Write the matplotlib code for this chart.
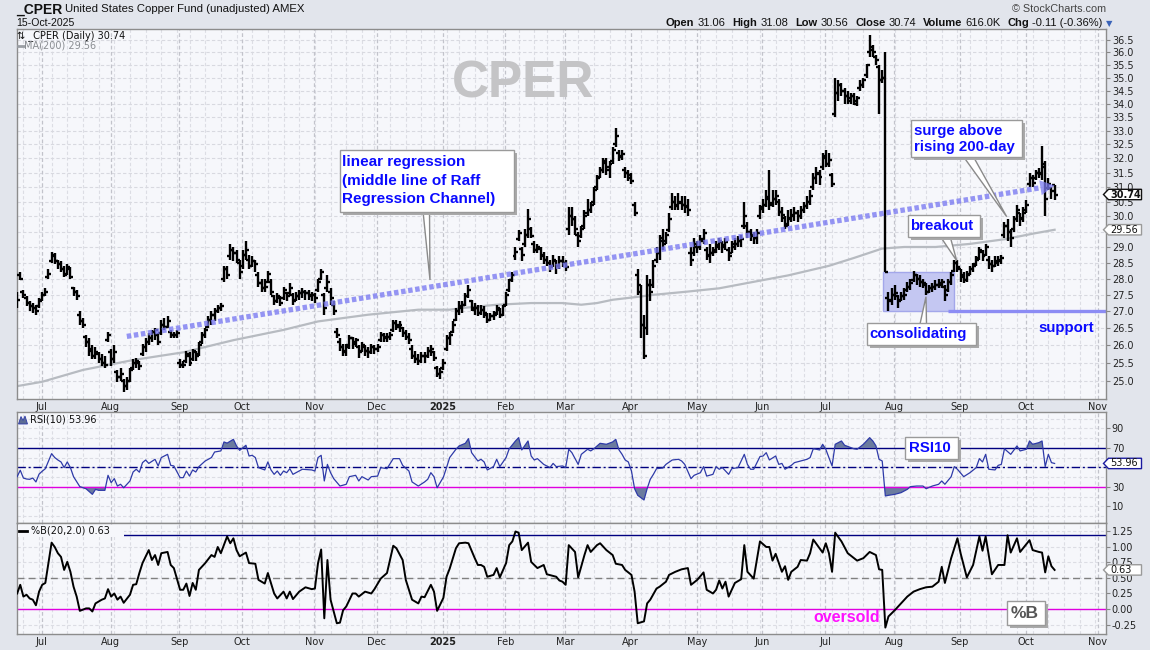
import numpy as np
import pandas as pd
import matplotlib
matplotlib.use("Agg")
import matplotlib.pyplot as plt
from matplotlib.collections import LineCollection
from matplotlib.patches import Polygon, Rectangle
from matplotlib.ticker import FixedLocator, NullLocator, FormatStrFormatter, FuncFormatter
from matplotlib.transforms import IdentityTransform

plt.rcParams['font.family'] = ['DejaVu Sans']

# ---------------- DATA ----------------
holidays = ['2024-07-04', '2024-09-02', '2024-11-28', '2024-12-25', '2025-01-01', '2025-01-09',
            '2025-01-20', '2025-02-17', '2025-04-18', '2025-05-26', '2025-06-19', '2025-07-04',
            '2025-09-01', '2025-11-27']
first_day = '2024-06-20'
last_axis_day = '2025-11-28'

month_labels = ['Jul', 'Aug', 'Sep', 'Oct', 'Nov', 'Dec', '2025', 'Feb', 'Mar', 'Apr', 'May',
                'Jun', 'Jul', 'Aug', 'Sep', 'Oct', 'Nov']

opens = [27.5, 28.1, 27.6, 27.4, 27.25, 27.15, 27.1, 27.15, 27.35, 27.5,
         28.05, 28.55, 28.7, 28.55, 28.45, 28.3, 28.15, 28.3, 27.7, 27.6,
         26.9, 26.7, 26.25, 26.1, 25.9, 25.7, 25.75, 25.6, 25.5, 26.15,
         25.8, 25.6, 25.25, 25.1, 25.0, 24.85, 25.0, 25.35, 25.5, 25.5,
         25.75, 25.95, 26.1, 26.2, 26.4, 26.3, 26.35, 26.6, 26.55, 26.4,
         26.3, 26.3, 25.5, 25.45, 25.55, 25.7, 25.6, 25.8, 25.75, 26.1,
         26.3, 26.55, 26.75, 26.9, 27.0, 27.1, 28.0, 28.3, 28.7, 28.9,
         28.8, 28.5, 28.4, 28.75, 28.6, 28.4, 28.55, 28.1, 27.85, 27.7,
         27.9, 27.9, 27.45, 27.3, 27.4, 27.4, 27.55, 27.55, 27.5, 27.35,
         27.45, 27.55, 27.6, 27.55, 27.45, 27.5, 27.65, 28.0, 27.5, 27.7,
         27.6, 27.2, 26.4, 26.1, 25.95, 25.8, 26.0, 26.2, 26.05, 25.95,
         25.85, 25.95, 25.85, 25.8, 25.95, 25.9, 26.15, 26.3, 26.2, 26.25,
         26.45, 26.65, 26.55, 26.5, 26.35, 26.25, 25.9, 25.7, 25.6, 25.55,
         25.7, 25.7, 25.85, 25.8, 25.35, 25.2, 25.35, 25.9, 26.2, 26.4,
         26.75, 27.0, 27.1, 27.2, 27.45, 27.3, 27.05, 27.1, 26.95, 27.05,
         26.9, 26.75, 26.85, 26.95, 27.05, 26.9, 27.2, 27.65, 27.95, 28.7,
         29.25, 28.95, 29.1, 29.4, 29.6, 29.1, 28.9, 28.95, 28.7, 28.6,
         28.5, 28.4, 28.55, 28.4, 28.55, 28.5, 29.6, 30.0, 29.9, 29.4,
         29.35, 29.7, 30.1, 30.2, 30.5, 31.0, 31.35, 31.6, 31.85, 31.6,
         31.9, 32.5, 32.2, 32.05, 31.6, 31.5, 31.3, 30.4, 28.1, 27.6,
         26.6, 26.5, 27.8, 27.8, 28.6, 28.8, 29.3, 29.2, 29.55, 30.3,
         30.5, 30.35, 30.5, 30.4, 30.3, 28.8, 28.8, 29.1, 29.0, 29.25,
         28.9, 28.7, 28.8, 28.9, 29.0, 29.15, 29.0, 28.9, 28.8, 29.0,
         29.1, 29.2, 29.7, 29.7, 29.5, 29.4, 29.3, 30.0, 30.3, 30.4,
         30.6, 30.45, 30.6, 30.5, 30.15, 29.95, 29.75, 29.9, 30.0, 30.1,
         30.0, 30.2, 30.35, 30.5, 31.0, 31.3, 31.5, 31.7, 32.1, 31.8,
         31.4, 33.6, 34.4, 34.7, 34.5, 34.3, 34.1, 34.3, 34.0, 34.6,
         34.7, 35.1, 36.0, 36.2, 35.8, 35.4, 34.9, 35.0, 27.4, 27.3,
         27.5, 27.45, 27.35, 27.45, 27.65, 27.75, 27.95, 28.1, 28.0, 27.9,
         27.8, 27.6, 27.7, 27.75, 27.8, 27.8, 27.75, 27.65, 27.9, 28.25,
         28.5, 28.3, 28.1, 27.95, 28.15, 28.3, 28.45, 28.65, 28.85, 28.75,
         28.6, 28.45, 28.4, 28.5, 28.55, 29.4, 29.7, 29.5, 29.6, 29.9,
         30.1, 29.9, 30.2, 31.1, 31.3, 31.3, 31.5, 31.5, 31.7, 30.95,
         30.95, 31.06]

highs = [27.6, 28.2, 27.65, 27.45, 27.3, 27.25, 27.2, 27.4, 27.6, 27.7,
         28.3, 28.85, 28.8, 28.6, 28.55, 28.4, 28.45, 28.35, 27.75, 27.65,
         27.0, 26.8, 26.3, 26.2, 26.0, 25.95, 25.8, 25.75, 25.7, 26.4,
         25.9, 26.0, 25.3, 25.35, 25.05, 25.1, 25.35, 25.6, 25.65, 25.55,
         26.05, 26.2, 26.35, 26.45, 26.5, 26.35, 26.75, 26.8, 26.85, 26.45,
         26.4, 26.45, 25.6, 25.55, 25.85, 25.8, 25.9, 25.85, 26.1, 26.4,
         26.5, 26.85, 27.0, 27.1, 27.2, 27.25, 28.4, 28.4, 29.1, 29.0,
         28.9, 28.6, 28.9, 29.2, 28.75, 28.7, 28.6, 28.2, 28.0, 28.0,
         28.25, 28.0, 27.5, 27.55, 27.45, 27.75, 27.6, 27.85, 27.55, 27.6,
         27.65, 27.7, 27.65, 27.65, 27.6, 27.55, 28.0, 28.3, 27.55, 28.1,
         27.7, 27.3, 26.5, 26.2, 26.05, 26.05, 26.3, 26.25, 26.2, 26.0,
         26.1, 26.0, 25.95, 26.05, 26.0, 26.05, 26.4, 26.35, 26.35, 26.4,
         26.75, 26.75, 26.7, 26.55, 26.45, 26.35, 26.0, 25.85, 25.75, 25.8,
         25.8, 25.95, 26.0, 25.85, 25.4, 25.35, 25.6, 26.3, 26.4, 26.7,
         27.1, 27.3, 27.3, 27.55, 27.8, 27.35, 27.25, 27.2, 27.2, 27.15,
         26.95, 26.95, 27.0, 27.2, 27.1, 27.2, 27.6, 28.0, 28.2, 29.0,
         29.55, 29.0, 29.6, 30.25, 29.65, 29.2, 29.1, 29.0, 28.85, 28.7,
         28.6, 28.75, 28.6, 28.7, 28.7, 28.6, 30.3, 30.3, 30.0, 29.5,
         29.7, 30.2, 30.6, 30.5, 31.0, 31.4, 31.7, 32.0, 32.0, 31.9,
         32.4, 33.1, 32.3, 32.3, 31.7, 31.6, 31.5, 30.5, 28.3, 27.8,
         26.9, 28.1, 28.0, 28.6, 29.0, 29.4, 29.6, 29.5, 30.1, 30.8,
         30.7, 30.8, 30.7, 30.7, 30.6, 29.0, 29.3, 29.2, 29.4, 29.6,
         29.0, 29.1, 29.0, 29.2, 29.3, 29.2, 29.3, 29.0, 29.2, 29.3,
         29.35, 29.4, 30.5, 29.8, 29.6, 29.5, 29.6, 30.4, 30.6, 30.9,
         31.6, 30.9, 30.9, 30.6, 30.3, 30.0, 30.2, 30.25, 30.3, 30.2,
         30.35, 30.5, 30.7, 30.9, 31.5, 31.7, 31.6, 32.2, 32.3, 32.2,
         31.5, 35.0, 34.9, 34.8, 34.6, 34.5, 34.4, 34.4, 34.3, 34.9,
         35.0, 35.55, 36.7, 36.3, 35.9, 35.5, 35.3, 36.0, 27.6, 27.7,
         27.8, 27.5, 27.6, 27.7, 27.9, 28.0, 28.25, 28.15, 28.1, 28.0,
         27.85, 27.8, 27.85, 27.95, 28.0, 28.0, 27.8, 28.0, 28.2, 28.6,
         28.6, 28.3, 28.2, 28.25, 28.4, 28.5, 28.7, 29.0, 28.9, 29.1,
         28.7, 28.6, 28.7, 28.7, 28.75, 29.8, 29.9, 29.6, 30.0, 30.4,
         30.1, 30.3, 30.55, 31.5, 31.4, 31.6, 31.65, 32.45, 31.9, 31.3,
         31.0, 31.08]

lows = [27.1, 27.95, 27.4, 27.15, 27.0, 26.95, 26.9, 27.1, 27.3, 27.45,
        28.0, 28.5, 28.45, 28.3, 28.2, 28.05, 28.1, 28.0, 27.45, 27.35,
        26.6, 26.5, 25.95, 25.7, 25.6, 25.6, 25.5, 25.4, 25.35, 26.1,
        25.4, 25.5, 24.95, 25.0, 24.7, 24.75, 24.95, 25.3, 25.35, 25.3,
        25.7, 25.8, 26.0, 26.1, 26.15, 26.0, 26.3, 26.45, 26.5, 26.2,
        26.2, 26.2, 25.35, 25.35, 25.5, 25.4, 25.55, 25.55, 25.7, 26.05,
        26.2, 26.5, 26.6, 26.7, 26.95, 27.0, 27.9, 28.0, 28.6, 28.55,
        28.5, 28.0, 28.3, 28.6, 28.3, 28.35, 28.2, 27.75, 27.6, 27.6,
        27.85, 27.5, 27.2, 27.25, 27.15, 27.35, 27.3, 27.5, 27.2, 27.3,
        27.35, 27.4, 27.35, 27.35, 27.3, 27.25, 27.6, 27.95, 26.9, 27.6,
        27.2, 26.9, 26.2, 25.85, 25.7, 25.7, 25.9, 25.9, 25.95, 25.65,
        25.8, 25.7, 25.65, 25.75, 25.75, 25.8, 26.1, 26.1, 26.1, 26.15,
        26.4, 26.45, 26.4, 26.25, 26.15, 26.05, 25.6, 25.5, 25.45, 25.5,
        25.5, 25.65, 25.7, 25.55, 25.1, 25.05, 25.3, 25.85, 26.0, 26.35,
        26.7, 26.9, 26.95, 27.15, 27.4, 27.0, 26.9, 26.85, 26.9, 26.8,
        26.65, 26.7, 26.75, 26.9, 26.8, 26.85, 27.15, 27.6, 27.9, 28.6,
        29.2, 28.55, 29.0, 29.3, 29.3, 28.8, 28.8, 28.6, 28.45, 28.4,
        28.2, 28.35, 28.15, 28.3, 28.35, 28.25, 29.4, 29.7, 29.4, 29.0,
        29.3, 29.6, 30.0, 30.1, 30.4, 30.9, 31.3, 31.5, 31.4, 31.3,
        31.8, 32.4, 31.9, 31.95, 31.3, 31.2, 31.1, 30.0, 27.5, 26.2,
        25.6, 26.3, 27.3, 27.7, 28.5, 28.6, 28.9, 29.1, 29.5, 30.2,
        30.2, 30.2, 30.2, 30.1, 30.0, 28.4, 28.7, 28.8, 28.9, 29.1,
        28.6, 28.5, 28.7, 28.8, 28.9, 28.8, 28.9, 28.55, 28.8, 28.9,
        29.0, 29.0, 29.6, 29.3, 29.2, 29.1, 29.1, 29.9, 30.1, 30.3,
        30.2, 30.3, 30.4, 30.0, 29.8, 29.6, 29.7, 29.8, 29.85, 29.8,
        29.9, 30.1, 30.25, 30.4, 30.9, 31.1, 31.05, 31.6, 31.7, 31.7,
        31.0, 33.5, 34.1, 34.3, 34.0, 34.0, 34.0, 33.95, 33.9, 34.5,
        34.6, 35.0, 35.8, 35.8, 35.5, 33.6, 34.8, 28.2, 27.0, 27.2,
        27.35, 27.1, 27.3, 27.35, 27.6, 27.65, 27.9, 27.8, 27.75, 27.7,
        27.5, 27.55, 27.6, 27.65, 27.7, 27.7, 27.3, 27.6, 27.8, 28.2,
        28.2, 27.9, 27.85, 27.9, 28.1, 28.2, 28.4, 28.6, 28.55, 28.7,
        28.3, 28.2, 28.35, 28.4, 28.45, 29.3, 29.2, 29.0, 29.5, 29.8,
        29.7, 29.8, 30.1, 31.0, 31.0, 31.25, 31.3, 31.25, 30.0, 30.9,
        30.6, 30.56]

closes = [27.35, 28.0, 27.5, 27.25, 27.15, 27.1, 27.0, 27.3, 27.5, 27.6,
          28.15, 28.75, 28.55, 28.45, 28.3, 28.1, 28.35, 28.05, 27.6, 27.45,
          26.7, 26.6, 26.1, 25.85, 25.7, 25.8, 25.6, 25.5, 25.45, 26.3,
          25.6, 25.8, 25.1, 25.2, 24.85, 25.0, 25.3, 25.5, 25.55, 25.4,
          25.95, 26.1, 26.2, 26.4, 26.45, 26.1, 26.6, 26.55, 26.7, 26.3,
          26.3, 26.35, 25.45, 25.45, 25.75, 25.5, 25.85, 25.7, 26.0, 26.3,
          26.45, 26.75, 26.9, 27.0, 27.1, 27.15, 28.3, 28.1, 28.9, 28.8,
          28.6, 28.2, 28.75, 28.9, 28.4, 28.55, 28.45, 27.85, 27.7, 27.75,
          28.15, 27.6, 27.3, 27.45, 27.25, 27.65, 27.45, 27.7, 27.3, 27.45,
          27.55, 27.6, 27.55, 27.5, 27.5, 27.4, 27.9, 28.2, 27.1, 27.9,
          27.4, 27.0, 26.3, 25.95, 25.85, 25.95, 26.2, 26.1, 26.15, 25.8,
          26.0, 25.85, 25.8, 25.95, 25.9, 25.95, 26.3, 26.25, 26.25, 26.3,
          26.65, 26.6, 26.6, 26.35, 26.25, 26.15, 25.7, 25.6, 25.55, 25.7,
          25.7, 25.85, 25.9, 25.65, 25.2, 25.25, 25.5, 26.2, 26.3, 26.6,
          27.0, 27.15, 27.2, 27.45, 27.65, 27.1, 27.1, 26.95, 27.05, 26.95,
          26.75, 26.85, 26.9, 27.1, 26.9, 27.15, 27.5, 27.95, 28.1, 28.85,
          29.45, 28.75, 29.4, 29.9, 29.35, 28.9, 29.0, 28.75, 28.6, 28.5,
          28.35, 28.6, 28.4, 28.55, 28.5, 28.35, 30.0, 29.9, 29.6, 29.2,
          29.6, 30.0, 30.2, 30.4, 30.9, 31.3, 31.6, 31.9, 31.7, 31.8,
          32.3, 32.8, 32.1, 32.15, 31.5, 31.4, 31.2, 30.1, 27.8, 26.6,
          25.7, 27.8, 27.6, 28.4, 28.8, 29.2, 29.1, 29.4, 29.9, 30.5,
          30.4, 30.45, 30.4, 30.35, 30.2, 28.6, 29.0, 29.0, 29.2, 29.45,
          28.75, 28.8, 28.85, 29.05, 29.2, 29.05, 29.15, 28.7, 29.1, 29.1,
          29.2, 29.25, 30.0, 29.5, 29.35, 29.3, 29.45, 30.25, 30.4, 30.65,
          30.4, 30.6, 30.7, 30.15, 30.05, 29.7, 29.95, 30.05, 30.1, 30.0,
          30.2, 30.35, 30.5, 30.7, 31.3, 31.45, 31.35, 32.0, 31.8, 31.95,
          31.1, 34.4, 34.7, 34.5, 34.3, 34.2, 34.3, 34.1, 34.2, 34.7,
          34.9, 35.5, 36.1, 36.0, 35.7, 34.9, 35.0, 28.2, 27.35, 27.5,
          27.55, 27.3, 27.45, 27.5, 27.75, 27.85, 28.1, 28.0, 27.9, 27.85,
          27.6, 27.7, 27.75, 27.8, 27.85, 27.9, 27.5, 27.9, 28.1, 28.5,
          28.35, 28.05, 27.95, 28.1, 28.3, 28.4, 28.6, 28.9, 28.7, 29.0,
          28.45, 28.4, 28.55, 28.6, 28.65, 29.7, 29.5, 29.3, 29.9, 30.2,
          29.95, 30.1, 30.4, 31.3, 31.15, 31.5, 31.45, 31.8, 30.6, 31.1,
          30.85, 30.74]

ma_days = [0, 8, 21, 37, 53, 69, 85, 96, 112, 128, 138, 142, 153, 164, 174, 180, 185, 190,
           199, 203, 214, 224, 235, 246, 259, 267, 276, 283, 293, 304, 315, 325, 331]
ma_vals = [24.85, 24.97, 25.3, 25.58, 25.8, 26.15, 26.45, 26.7, 26.9, 27.05, 27.05, 27.1, 27.2,
           27.25, 27.25, 27.2, 27.25, 27.35, 27.45, 27.5, 27.6, 27.7, 27.9, 28.1, 28.4, 28.65,
           28.95, 29.0, 29.0, 29.1, 29.25, 29.45, 29.56]

rsi_days = [0, 1, 2, 3, 4, 5, 6, 7, 8, 9, 11, 12, 13, 14, 15, 16, 17, 18, 20, 22, 24, 25, 26, 28,
            29, 30, 31, 32, 33, 34, 36, 37, 38, 39, 40, 41, 42, 44, 45, 46, 48, 49, 50, 52, 53, 54,
            55, 56, 57, 58, 60, 62, 63, 65, 66, 67, 69, 70, 71, 73, 74, 75, 76, 77, 79, 80, 81, 82,
            83, 84, 85, 86, 87, 88, 90, 91, 94, 95, 96, 97, 98, 99, 100, 101, 103, 105, 106, 108,
            109, 110, 112, 113, 115, 116, 118, 120, 122, 123, 125, 126, 128, 130, 131, 132, 133,
            134, 136, 137, 138, 140, 141, 143, 144, 145, 147, 148, 149, 150, 152, 153, 154, 156,
            157, 159, 160, 161, 163, 164, 165, 166, 168, 170, 171, 172, 174, 175, 176, 177, 179,
            180, 182, 183, 184, 186, 188, 190, 191, 192, 193, 194, 195, 196, 197, 198, 200, 201,
            202, 203, 204, 206, 207, 209, 211, 212, 213, 215, 216, 218, 219, 220, 222, 223, 224,
            225, 227, 228, 230, 232, 233, 234, 235, 237, 238, 239, 240, 242, 243, 244, 245, 247,
            248, 250, 252, 253, 254, 255, 256, 257, 258, 260, 261, 263, 264, 267, 268, 270, 272,
            273, 274, 275, 276, 277, 278, 280, 282, 284, 285, 287, 289, 290, 292, 294, 295, 296,
            298, 299, 300, 302, 304, 306, 307, 308, 309, 310, 312, 313, 314, 315, 317, 319, 320,
            322, 323, 324, 326, 327, 328, 329, 330, 331]
rsi_vals = [40.4, 47, 39, 38, 37.7, 39, 35, 43, 46, 48.6, 64, 60, 57.5, 55.5, 49.7, 55.5, 49.7,
            40.4, 30.2, 28, 22.3, 27.4, 26.4, 26.4, 41.8, 34.3, 38.4, 30.8, 32.6, 29, 36, 45.2, 48,
            45, 54.8, 57.5, 54, 58.2, 51.4, 60, 63.3, 52, 51.4, 39.4, 39.4, 46.2, 41, 47.3, 45.2,
            50.7, 56.5, 60, 65.7, 66.8, 76, 74.8, 78.7, 71.9, 67.4, 72.6, 61.6, 62.3, 60, 49.7,
            47.3, 55.5, 47.3, 42.8, 46.2, 41.8, 46.2, 44.5, 48.6, 42.8, 46.2, 48, 47.3, 46.2, 60,
            62.3, 36, 53, 44.5, 38.4, 30.8, 32.6, 40.4, 41.8, 36, 40.4, 37, 40.4, 41, 49.7, 48.6,
            58.9, 58.9, 52, 46.2, 35, 30.8, 35, 37.7, 44.5, 40.4, 29, 40, 49.7, 60, 68.5, 71.9,
            74.6, 79.4, 65, 56.5, 58.2, 55.5, 47.3, 50.7, 58.2, 50.7, 60, 69, 77, 80.4, 67.8, 77,
            61.6, 57.5, 58.9, 53, 49.7, 54, 50.7, 51.4, 49.7, 68.5, 65, 53, 63.3, 68.5, 66.8, 69,
            74.6, 73.6, 76, 78.7, 68, 63.3, 57.5, 55.5, 46.2, 28.1, 21.3, 16.5, 28.1, 37.7, 42.8,
            48.6, 49.3, 53, 57.5, 58.2, 56.5, 53, 38.4, 41.8, 44.5, 50.7, 41, 42.8, 50.7, 48, 49.7,
            42.8, 48.6, 49.7, 63.3, 53, 48, 48, 61, 61.6, 65, 57.5, 61.6, 53, 54, 48, 52, 54.8,
            56.5, 58.2, 60, 69, 68.5, 67.8, 73.6, 68.5, 51.4, 73.6, 77, 72.6, 69, 68.5, 73.6, 80.4,
            77, 72, 58.2, 56.5, 20.6, 21.3, 22.3, 24, 27.4, 30.2, 30.8, 30.8, 28.1, 30.8, 32.6, 36,
            32.6, 40.4, 50.7, 48, 40.4, 44.5, 49.7, 58.9, 55.5, 63.3, 48, 47.3, 52, 53, 69, 63.3,
            71.9, 66.8, 68.5, 77, 73.6, 75.3, 77, 50.7, 63.3, 54.8, 53.96]

pb_days = [0, 1, 2, 3, 4, 5, 6, 7, 8, 9, 11, 12, 13, 14, 15, 16, 17, 18, 19, 20, 22, 23, 24, 25,
           27, 28, 29, 30, 31, 32, 33, 34, 36, 37, 38, 39, 40, 42, 43, 44, 45, 46, 48, 49, 50, 52,
           53, 54, 55, 56, 57, 58, 60, 62, 63, 64, 65, 67, 68, 69, 70, 71, 73, 74, 76, 77, 79, 80,
           82, 83, 85, 86, 87, 88, 90, 92, 94, 95, 96, 97, 98, 99, 100, 102, 103, 104, 105, 107,
           108, 109, 111, 113, 114, 116, 118, 120, 121, 123, 124, 126, 128, 129, 130, 132, 133,
           134, 136, 137, 138, 140, 141, 143, 144, 146, 147, 148, 149, 150, 152, 153, 154, 156,
           157, 158, 159, 160, 161, 163, 164, 166, 168, 169, 172, 173, 174, 175, 176, 178, 179,
           181, 182, 183, 185, 186, 188, 190, 191, 193, 194, 196, 197, 198, 200, 201, 202, 204,
           205, 207, 208, 210, 212, 214, 215, 217, 219, 220, 222, 223, 224, 225, 226, 227, 229,
           231, 232, 233, 235, 237, 239, 240, 241, 242, 244, 245, 246, 247, 249, 250, 252, 253,
           254, 256, 257, 258, 259, 260, 261, 263, 265, 267, 268, 270, 272, 274, 275, 276, 277,
           278, 280, 282, 284, 286, 288, 290, 292, 293, 294, 295, 296, 298, 300, 301, 303, 305,
           307, 308, 309, 311, 313, 315, 316, 317, 319, 320, 323, 324, 326, 327, 328, 329, 330,
           331]
pb_vals = [0.25, 0.39, 0.2, 0.23, 0.17, 0.15, 0.06, 0.28, 0.39, 0.42, 1.07, 1.0, 0.9, 0.84, 0.63,
           0.76, 0.6, 0.36, 0.2, -0.03, 0.01, 0.01, -0.04, 0.09, 0.15, 0.17, 0.32, 0.2, 0.25, 0.15,
           0.2, 0.1, 0.23, 0.39, 0.4, 0.58, 0.74, 0.95, 0.79, 0.87, 0.71, 0.9, 0.92, 0.71, 0.66,
           0.31, 0.31, 0.41, 0.21, 0.42, 0.31, 0.63, 0.74, 0.87, 0.84, 1.0, 0.9, 1.17, 1.06, 1.14,
           0.95, 0.85, 0.91, 0.74, 0.73, 0.47, 0.41, 0.58, 0.25, 0.17, 0.28, 0.17, 0.28, 0.16,
           0.28, 0.35, 0.32, 0.33, 0.74, 0.96, -0.15, 0.79, 0.15, -0.23, -0.22, -0.02, 0.04, 0.25,
           0.25, 0.2, 0.28, 0.25, 0.32, 0.49, 0.58, 1.02, 0.98, 0.79, 0.47, 0.15, 0.09, 0.2, 0.19,
           0.39, 0.28, -0.03, 0.18, 0.52, 0.65, 0.98, 1.06, 1.07, 1.06, 0.82, 0.71, 0.71, 0.68,
           0.52, 0.55, 0.66, 0.51, 0.74, 1.03, 1.09, 1.25, 1.23, 0.95, 1.07, 0.76, 0.66, 0.71,
           0.56, 0.52, 0.46, 0.44, 0.39, 1.03, 0.92, 0.51, 0.87, 1.03, 0.92, 1.03, 1.06, 0.95,
           0.87, 0.73, 0.71, 0.63, 0.55, 0.28, -0.23, -0.2, 0.09, 0.15, 0.33, 0.36, 0.44, 0.55,
           0.6, 0.64, 0.66, 0.39, 0.47, 0.59, 0.31, 0.25, 0.31, 0.46, 0.33, 0.44, 0.2, 0.42, 0.48,
           1.03, 0.6, 0.49, 1.09, 1.0, 1.0, 0.78, 0.89, 0.6, 0.69, 0.47, 0.6, 0.68, 0.79, 0.78,
           0.9, 1.12, 0.98, 0.91, 1.06, 0.9, 0.6, 1.23, 1.09, 0.9, 0.82, 0.78, 0.82, 0.92, 0.87,
           0.64, 0.63, -0.3, -0.12, -0.02, 0.09, 0.2, 0.28, 0.32, 0.35, 0.36, 0.4, 0.44, 0.68,
           0.42, 0.82, 1.14, 0.9, 0.51, 0.71, 1.17, 0.94, 1.17, 0.56, 0.71, 0.71, 1.19, 0.91,
           1.14, 0.92, 1.11, 0.95, 0.92, 0.91, 0.59, 0.85, 0.69, 0.63]

reg_start_day, reg_start_val = 35, 26.26
reg_end_day, reg_end_val = 331, 31.05
support_level = 27.0
support_start_day = 297
consol_days = (276.2, 298.9)
consol_range = (27.0, 28.2)

last_close, ma_last, rsi_last, pb_last = 30.74, 29.56, 53.96, 0.63

price_ticks = [25.0 + 0.5 * k for k in range(24)]
rsi_ticks = [10, 30, 70, 90]
pb_ticks = [-0.25, 0.0, 0.25, 0.5, 0.75, 1.0, 1.25]

# ---------------- CALENDAR ----------------
dates = pd.bdate_range(first_day, last_axis_day, freq='C', holidays=holidays)
month_first = [i for i in range(1, len(dates)) if dates[i].month != dates[i - 1].month]
week_first = [i for i in range(1, len(dates)) if dates[i].weekday() < dates[i - 1].weekday()]
month_pos = [m + 0.8 for m in month_first][:len(month_labels)]

n = len(closes)
days = np.arange(n)

# ---------------- FIGURE ----------------
W, H = 1150, 650
BG = '#e2e5ec'
PANEL = '#f6f7fb'
fig = plt.figure(figsize=(W / 100, H / 100), dpi=100, facecolor=BG)


def fx(x):
    return x / W


def fy(y):
    return 1 - y / H


def add_axes(top, bottom):
    return fig.add_axes([fx(16.5), fy(bottom), (1106 - 16.5) / W, (bottom - top) / H])


ax = add_axes(29, 399)
ax_r = add_axes(412.3, 523.3)
ax_b = add_axes(523.3, 634.3)
XLIM = (-0.2, 347.4)

for a in (ax, ax_r, ax_b):
    a.set_facecolor(PANEL)
    a.set_xlim(*XLIM)
    for s in a.spines.values():
        s.set_color('#8c8c8c')
        s.set_linewidth(1.0)
    for w in week_first:
        a.axvline(w, color='#dcdde4', lw=0.8, ls=(0, (3, 2)), zorder=0.3)
    for m in month_pos:
        a.axvline(m, color='#c2c3cb', lw=0.9, ls=(0, (3, 2)), zorder=0.4)
    a.yaxis.tick_right()
    a.tick_params(axis='y', direction='out', length=3, width=0.8, color='#888888',
                  labelsize=7, pad=1.2, labelcolor='#222222')
    a.tick_params(axis='x', length=0, labelsize=7, pad=2, labelcolor='#222222')

# ---- main price panel ----
ax.set_yscale('log')
ax.set_ylim(24.497, 36.94)
ax.yaxis.set_major_locator(FixedLocator(price_ticks))
ax.yaxis.set_minor_locator(NullLocator())
# the 29.5 label sits under the MA(200) value tag in the reference
ax.yaxis.set_major_formatter(FuncFormatter(lambda v, p: '' if abs(v - 29.5) < 1e-6 else '%.1f' % v))
for t in price_ticks:
    ax.axhline(t, color='#d8d9e0', lw=0.8, ls=(0, (3, 2)), zorder=0.3)

ax.set_xticks(month_pos)
ax.set_xticklabels(month_labels)
for lab in ax.get_xticklabels():
    if lab.get_text() == '2025':
        lab.set_fontweight('bold')

# consolidation box
ax.add_patch(Rectangle((consol_days[0], consol_range[0]), consol_days[1] - consol_days[0],
                       consol_range[1] - consol_range[0], facecolor='#c4c7f2', edgecolor='#a3a7ea',
                       lw=1, zorder=1))
# support line
ax.plot([support_start_day, XLIM[1]], [support_level, support_level], color='#8c8cf4', lw=2.4,
        solid_capstyle='butt', zorder=1.2)

# MA 200
ax.plot(ma_days, ma_vals, color='#b7bbc1', lw=1.6, zorder=1.5)

# OHLC bars
segs = []
for i in range(n):
    segs.append([(i, lows[i]), (i, highs[i])])
    segs.append([(i - 0.95, opens[i]), (i, opens[i])])
    segs.append([(i, closes[i]), (i + 0.95, closes[i])])
ax.add_collection(LineCollection(segs, colors='black', linewidths=1.7, capstyle='butt', zorder=3))

# regression line (straight on log axis) with arrow head
lr0, lr1 = np.log(reg_start_val), np.log(reg_end_val)


def reg_at(d):
    t = (d - reg_start_day) / (reg_end_day - reg_start_day)
    return float(np.exp(lr0 + t * (lr1 - lr0)))


arrow_base = reg_end_day - 4.5
ax.plot([reg_start_day, arrow_base], [reg_start_val, reg_at(arrow_base)], color='#7c7cf2',
        alpha=0.8, lw=3.8, ls=(0, (0.85, 0.5)), solid_capstyle='butt', zorder=4)
p_base = ax.transData.transform((arrow_base, reg_at(arrow_base)))
p_tip = ax.transData.transform((reg_end_day, reg_end_val))
dvec = (p_tip - p_base) / np.linalg.norm(p_tip - p_base)
nvec = np.array([-dvec[1], dvec[0]])
head = [p_tip, p_base + nvec * 7.5, p_base - nvec * 7.5]
ax.add_patch(Polygon(head, closed=True, transform=IdentityTransform(), facecolor='#7c7cf2',
                     edgecolor='none', alpha=0.75, zorder=4))

# ---- RSI panel ----
ax_r.set_ylim(-7.4, 106.4)
ax_r.yaxis.set_major_locator(FixedLocator(rsi_ticks))
ax_r.yaxis.set_major_formatter(FormatStrFormatter('%d'))
for t in range(0, 101, 10):
    ax_r.axhline(t, color='#dcdde4', lw=0.8, ls=(0, (3, 2)), zorder=0.3)
ax_r.set_xticks([])
rd = np.array(rsi_days, dtype=float)
rv = np.array(rsi_vals, dtype=float)
ax_r.fill_between(rd, rv, 70, where=rv >= 70, interpolate=True, color='#6b7b9f', lw=0, zorder=1)
ax_r.fill_between(rd, rv, 30, where=rv <= 30, interpolate=True, color='#6b7b9f', lw=0, zorder=1)
ax_r.axhline(70, color='#000080', lw=1.0, zorder=2)
ax_r.axhline(50, color='#000080', lw=1.0, ls=(0, (6, 2, 1.5, 2)), zorder=2)
ax_r.axhline(30, color='#e000e0', lw=1.0, zorder=2)
ax_r.plot(rd, rv, color='#2e3aa8', lw=0.9, zorder=3)

# ---- %B panel ----
ax_b.set_ylim(-0.408, 1.382)
ax_b.yaxis.set_major_locator(FixedLocator(pb_ticks))
ax_b.yaxis.set_major_formatter(FormatStrFormatter('%.2f'))
for t in pb_ticks:
    ax_b.axhline(t, color='#dcdde4', lw=0.8, ls=(0, (3, 2)), zorder=0.3)
ax_b.axhline(1.2, color='#000080', lw=1.0, zorder=2)
ax_b.axhline(0.5, color='#808080', lw=1.0, ls=(0, (5, 3)), zorder=2)
ax_b.axhline(0.0, color='#e000e0', lw=1.0, zorder=2)
ax_b.plot(pb_days, pb_vals, color='black', lw=1.4, zorder=3)
ax_b.set_xticks(month_pos)
ax_b.set_xticklabels(month_labels)
for lab in ax_b.get_xticklabels():
    if lab.get_text() == '2025':
        lab.set_fontweight('bold')

# ---------------- helpers for overlays (pixel coordinates) ----------------
ARIAL = 'Liberation Sans'
BLUE = '#0a0aff'


def ptext(x, y, s, **kw):
    kw.setdefault('va', 'center')
    kw.setdefault('ha', 'left')
    return fig.text(fx(x), fy(y), s, **kw)


def prect(x0, y0, x1, y1, **kw):
    r = Rectangle((fx(x0), fy(y1)), (x1 - x0) / W, (y1 - y0) / H, transform=fig.transFigure, **kw)
    fig.add_artist(r)
    return r


def ppoly(pts, **kw):
    p = Polygon([(fx(x), fy(y)) for x, y in pts], closed=True, transform=fig.transFigure, **kw)
    fig.add_artist(p)
    return p


def callout(x0, y0, x1, y1, lines, x_text, y_lines, wedge=None, color=BLUE, size=10.8):
    if wedge is not None:
        ppoly(wedge, facecolor='white', edgecolor='#8a8a8a', lw=1, zorder=20)
    prect(x0 + 3, y0 + 3, x1 + 3, y1 + 3, facecolor='#a9a9a9', edgecolor='none', zorder=20.5)
    prect(x0, y0, x1, y1, facecolor='white', edgecolor='#9a9a9a', lw=1, zorder=21)
    for s, yy in zip(lines, y_lines):
        ptext(x_text, yy, s, color=color, fontsize=size, fontweight='bold', family=ARIAL, zorder=22)


renderer = fig.canvas.get_renderer()

# header
t_sym = ptext(16, 9.5, '_CPER', fontsize=10, fontweight='bold', family=ARIAL, color='#111111')
sym_w = t_sym.get_window_extent(renderer).width
ptext(16 + sym_w + 3, 9.5, 'United States Copper Fund (unadjusted) AMEX', fontsize=8.2,
      family=ARIAL, color='#111111')
ptext(16, 22.5, '15-Oct-2025', fontsize=7.6, family=ARIAL, color='#111111')
ptext(1106, 9.3, '\u00a9 StockCharts.com', fontsize=7.8, family=ARIAL, color='#444444', ha='right')

pieces = [('Open', True), ('31.06', False), ('High', True), ('31.08', False), ('Low', True),
          ('30.56', False), ('Close', True), ('30.74', False), ('Volume', True), ('616.0K', False),
          ('Chg', True), ('-0.11 (-0.36%)', False)]
widths = []
for s, b in pieces:
    t = fig.text(0, 0, s, fontsize=8, family=ARIAL, fontweight='bold' if b else 'normal')
    widths.append(t.get_window_extent(renderer).width)
    t.remove()
gaps = [3 if b else 7 for s, b in pieces]
xcur = 666
for (s, b), w, g in zip(pieces, widths, gaps):
    ptext(xcur, 22.5, s, fontsize=8, family=ARIAL, fontweight='bold' if b else 'normal',
          color='#111111')
    xcur += w + g
ptext(xcur - 4, 23.5, '\u25bc', fontsize=6, color='#3a63b8', ha='left')

# watermark
ptext(523, 84, 'CPER', fontsize=37, fontweight='bold', family=ARIAL, color='#c4c4c6', ha='center',
      zorder=0.5)

# legends
ptext(17, 35.5, '\u21c5 _CPER (Daily) 30.74', fontsize=7, color='#111111', zorder=25)
fig.add_artist(plt.Line2D([fx(18), fx(24)], [fy(46), fy(46)], color='#9a9ea4', lw=2,
                          transform=fig.transFigure, zorder=25))
ptext(24.5, 46, 'MA(200) 29.56', fontsize=7, color='#8a8d92', zorder=25)
ppoly([(18.5, 424), (21, 416.5), (23, 420.5), (25, 416), (27.5, 424)], facecolor='#5d6d95',
      edgecolor='#2e3aa8', lw=0.6, zorder=25)
ptext(30.5, 419.3, 'RSI(10) 53.96', fontsize=7, color='#111111', zorder=25)
prect(17.5, 524.5, 124, 536.5, facecolor=PANEL, edgecolor='none', zorder=24)
fig.add_artist(plt.Line2D([fx(19), fx(27)], [fy(530.5), fy(530.5)], color='black', lw=2,
                          transform=fig.transFigure, zorder=25))
ptext(31, 530.5, '%B(20,2.0) 0.63', fontsize=7, color='#111111', zorder=25)


# value tags at right axis
def tag(a, yval, s, ec, weight='normal'):
    xd = a.transAxes.transform((1.0, 0.0))[0]
    yd = a.transData.transform((0.0, yval))[1]
    hh, ww = 5.2, 33
    verts = [(xd - 2.5, yd), (xd + 2.5, yd + hh), (xd + 2.5 + ww, yd + hh), (xd + 2.5 + ww, yd - hh),
             (xd + 2.5, yd - hh)]
    fig.add_artist(Polygon(verts, closed=True, transform=IdentityTransform(), facecolor='white',
                           edgecolor=ec, lw=1, zorder=30))
    fig.text(xd + 4.5, yd, s, transform=IdentityTransform(), fontsize=7, fontweight=weight,
             color='#111111', va='center', ha='left', zorder=31)


tag(ax, last_close, '30.74', '#111111', weight='bold')
tag(ax, ma_last, '29.56', '#9a9a9a')
tag(ax_r, rsi_last, '53.96', '#1a1aa0')
tag(ax_b, pb_last, '0.63', '#9a9a9a')

# annotations
callout(340, 150, 514, 212, ['linear regression', '(middle line of Raff', 'Regression Channel)'],
        342, [161.5, 180.5, 199.5],
        wedge=[(423, 211), (429.5, 211), (430, 280)], size=11)
callout(910.7, 120, 1022, 157, ['surge above', 'rising 200-day'], 913.5, [130.5, 146.5],
        wedge=[(963, 156), (973, 156), (1006.7, 216.7)])
callout(908, 215, 980, 237, ['breakout'], 910.5, [225.5],
        wedge=[(940, 236), (950, 236), (956.7, 260.7)])
callout(866.7, 323, 976, 345, ['consolidating'], 869.5, [334],
        wedge=[(920, 324), (926.5, 324), (926, 296.7)])
ptext(1038, 328, 'support', color=BLUE, fontsize=10.8, fontweight='bold', family=ARIAL, zorder=22)
callout(905, 436.7, 958, 459.3, ['RSI10'], 908.5, [448])
ptext(813, 618, 'oversold', color='#ff10ff', fontsize=11.5, fontweight='bold', family=ARIAL,
      zorder=22)
callout(1007, 600.7, 1045, 625, ['%B'], 1011, [613], color='#555555', size=12.5)

fig.savefig('out.png', dpi=100, facecolor=BG)
